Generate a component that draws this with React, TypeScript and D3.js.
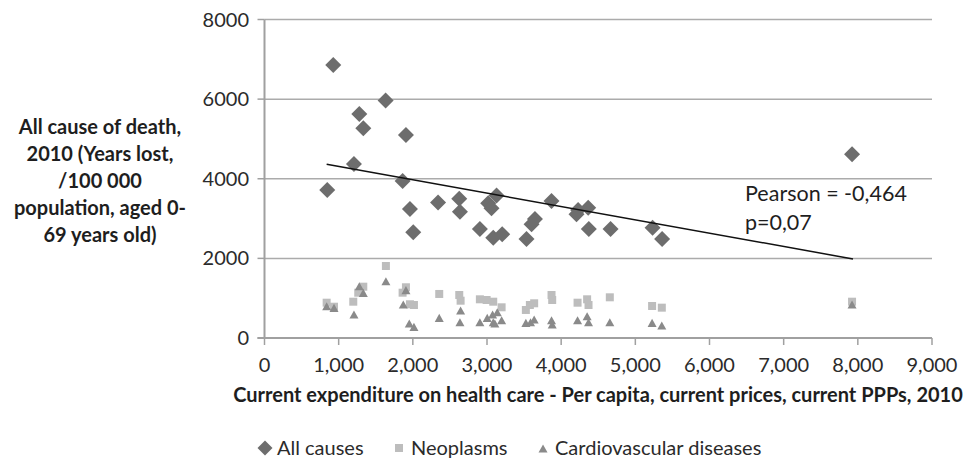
import React from "react";
import * as d3 from "d3";

// [health expenditure per capita (PPP), years lost per 100 000]
const allCauses: [number, number][] = [
  [846, 3719], [927, 6860], [1206, 4372], [1278, 5628], [1332, 5269],
  [1633, 5963], [1862, 3945], [1907, 5100], [1961, 3241], [2006, 2655],
  [2340, 3405], [2626, 3500], [2635, 3174], [2904, 2735], [3016, 3384],
  [3061, 3259], [3084, 2520], [3129, 3578], [3205, 2605], [3533, 2487],
  [3601, 2857], [3646, 2990], [3870, 3442], [4207, 3108], [4229, 3216],
  [4364, 3274], [4373, 2739], [4666, 2739], [5232, 2772], [5361, 2487],
  [7922, 4615],
];

const neoplasms: [number, number][] = [
  [838, 887], [937, 786], [1197, 912], [1264, 1138], [1332, 1289],
  [1637, 1809], [1862, 1138], [1907, 1274], [1961, 847], [2015, 829],
  [2356, 1106], [2626, 1080], [2644, 937], [2904, 972], [2995, 955],
  [3084, 912], [3197, 771], [3524, 704], [3578, 829], [3636, 872],
  [3870, 1080], [3879, 955], [4221, 887], [4350, 972], [4369, 829],
  [4656, 1022], [5226, 804], [5357, 762], [7922, 912],
];

const cardiovascular: [number, number][] = [
  [838, 786], [937, 746], [1206, 578], [1278, 1289], [1332, 1123],
  [1637, 1415], [1871, 829], [1907, 1190], [1952, 352], [2015, 269],
  [2356, 495], [2635, 384], [2644, 678], [2904, 384], [3003, 495],
  [3075, 578], [3084, 384], [3106, 352], [3138, 636], [3197, 435],
  [3524, 369], [3587, 384], [3636, 452], [3870, 435], [3879, 327],
  [4221, 435], [4350, 535], [4369, 384], [4656, 384], [5226, 369],
  [5357, 301], [7922, 829],
];

// linear trend of all causes, from first to last country
const trend: [number, number][] = [[838, 4364], [7935, 1985]];

const xTicks = [0, 1000, 2000, 3000, 4000, 5000, 6000, 7000, 8000, 9000];
const yTicks = [0, 2000, 4000, 6000, 8000];

const yTitle = [
  "All cause of death,",
  "2010 (Years lost,",
  "/100 000",
  "population, aged 0-",
  "69 years old)",
];
const xTitle = "Current expenditure on health care - Per capita, current prices, current PPPs, 2010";
const stats = ["Pearson = -0,464", "p=0,07"];
const legendItems = ["All causes", "Neoplasms", "Cardiovascular diseases"];

const W = 978;
const H = 461;
const FONT = "Lato, 'Open Sans', sans-serif";

const colAll = "#6d6d6d";
const colNeo = "#bdbdbd";
const colCvd = "#8a8a8a";

const diamond = (r: number) => `M0,${-r}L${r},0L0,${r}L${-r},0Z`;
const square = (s: number) => `M${-s / 2},${-s / 2}h${s}v${s}h${-s}Z`;
const triangle = (w: number) => `M0,${-w * 0.5}L${w / 2},${w * 0.4}L${-w / 2},${w * 0.4}Z`;

export default function App() {
  const x = d3.scaleLinear().domain([0, 9000]).range([264.5, 932]);
  const y = d3.scaleLinear().domain([0, 8000]).range([338, 19.5]);
  const fmt = d3.format(",");
  const line = d3.line<[number, number]>().x(d => x(d[0])).y(d => y(d[1]));

  const legendX = [265, 399, 543];

  return (
    <svg
      width={W}
      height={H}
      style={{ position: "absolute", left: 0, top: 0, background: "#fff" }}
      fontFamily={FONT}
    >
      {/* gridlines */}
      {yTicks.filter(t => t > 0).map(t => (
        <line key={t} x1={x(0)} x2={x(9000)} y1={y(t)} y2={y(t)} stroke="#ababab" strokeWidth={1.5} />
      ))}

      {/* y axis */}
      <line x1={x(0)} x2={x(0)} y1={y(0)} y2={y(8000)} stroke="#a0a0a0" strokeWidth={2} />
      {yTicks.map(t => (
        <g key={t}>
          <line x1={x(0) - 7} x2={x(0)} y1={y(t)} y2={y(t)} stroke="#a0a0a0" strokeWidth={1.5} />
          <text x={249} y={y(t)} dy="0.35em" textAnchor="end" fontSize={20} fill="#2b2b2b">{t}</text>
        </g>
      ))}

      {/* x axis */}
      <line x1={x(0) - 7} x2={x(9000)} y1={y(0)} y2={y(0)} stroke="#a0a0a0" strokeWidth={2} />
      {xTicks.map(t => (
        <g key={t}>
          <line x1={x(t)} x2={x(t)} y1={y(0)} y2={y(0) + 7} stroke="#a0a0a0" strokeWidth={1.5} />
          <text x={x(t)} y={372} textAnchor="middle" fontSize={20} fill="#2b2b2b">{fmt(t)}</text>
        </g>
      ))}

      {/* series */}
      {allCauses.map((d, i) => (
        <path key={"a" + i} d={diamond(8)} transform={`translate(${x(d[0])},${y(d[1])})`} fill={colAll} />
      ))}
      {neoplasms.map((d, i) => (
        <path key={"n" + i} d={square(8)} transform={`translate(${x(d[0])},${y(d[1])})`} fill={colNeo} />
      ))}
      {cardiovascular.map((d, i) => (
        <path key={"c" + i} d={triangle(9)} transform={`translate(${x(d[0])},${y(d[1])})`} fill={colCvd} />
      ))}

      {/* trend line */}
      <path d={line(trend) ?? ""} stroke="#111" strokeWidth={1.5} fill="none" />

      {/* annotation */}
      {stats.map((s, i) => (
        <text key={s} x={745} y={201 + i * 29} fontSize={21.5} fill="#1e1e1e">{s}</text>
      ))}

      {/* axis titles */}
      {yTitle.map((s, i) => (
        <text key={s} x={100} y={134 + i * 27} textAnchor="middle" fontSize={20} fontWeight="bold" fill="#1e1e1e">{s}</text>
      ))}
      <text x={598} y={402} textAnchor="middle" fontSize={20} fontWeight="bold" fill="#1e1e1e">{xTitle}</text>

      {/* legend */}
      <path d={diamond(7.5)} transform={`translate(${legendX[0]},448)`} fill={colAll} />
      <path d={square(8)} transform={`translate(${legendX[1]},448)`} fill={colNeo} />
      <path d={triangle(9)} transform={`translate(${legendX[2]},449)`} fill={colCvd} />
      {legendItems.map((s, i) => (
        <text key={s} x={legendX[i] + 12} y={455} fontSize={20} fill="#2b2b2b">{s}</text>
      ))}
    </svg>
  );
}
